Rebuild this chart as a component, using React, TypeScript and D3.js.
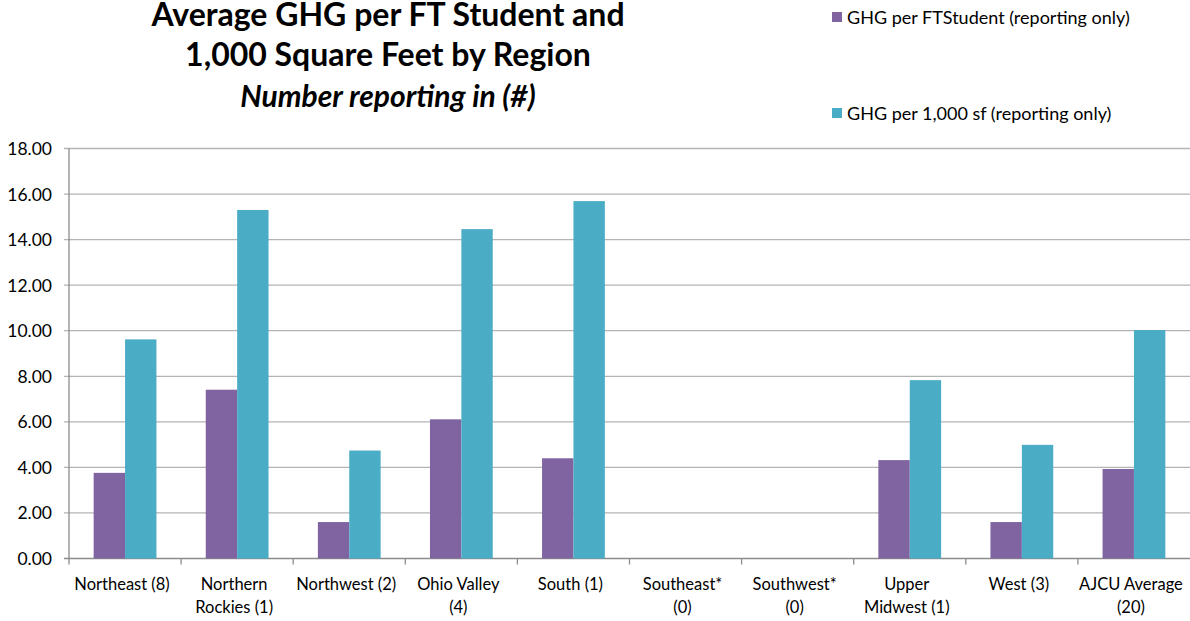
import React from "react";
import * as d3 from "d3";

const categories: string[][] = [
  ["Northeast (8)"],
  ["Northern", "Rockies (1)"],
  ["Northwest (2)"],
  ["Ohio Valley", "(4)"],
  ["South (1)"],
  ["Southeast*", "(0)"],
  ["Southwest*", "(0)"],
  ["Upper", "Midwest (1)"],
  ["West (3)"],
  ["AJCU Average", "(20)"],
];
const ghgPerStudent: (number | null)[] = [3.76, 7.41, 1.6, 6.11, 4.4, null, null, 4.32, 1.6, 3.93];
const ghgPer1000sf: (number | null)[] = [9.62, 15.3, 4.74, 14.46, 15.69, null, null, 7.83, 4.99, 10.03];
const seriesNames = ["GHG per FTStudent (reporting only)", "GHG per 1,000 sf (reporting only)"];
const seriesColors = ["#8064A2", "#4BACC6"];
const yTicks = [0, 2, 4, 6, 8, 10, 12, 14, 16, 18];
const titleLines = ["Average GHG per FT Student and", "1,000 Square Feet by Region"];
const subtitle = "Number reporting in (#)";

const W = 1190;
const H = 621;
const left = 69;
const right = 1190;
const top = 148.5;
const bottom = 558.5;
const FONT = "Lato, 'Open Sans', sans-serif";

export default function App() {
  const idx = categories.map((_, i) => i);
  const x = d3.scaleBand<number>().domain(idx).range([left, right]).paddingInner(0).paddingOuter(0);
  const bw = x.bandwidth();
  const inner = d3.scaleBand<number>().domain([0, 1]).range([bw * 0.22, bw * 0.78]);
  const y = d3.scaleLinear().domain([0, 18]).range([bottom, top]);
  const series = [ghgPerStudent, ghgPer1000sf];

  return (
    <svg width={W} height={H} style={{ position: "absolute", left: 0, top: 0, background: "#fff" }}>
      {/* title */}
      <g fontFamily={FONT} fill="#000" textAnchor="middle">
        <text x={388} y={26} fontSize={32} fontWeight="bold">{titleLines[0]}</text>
        <text x={388} y={66} fontSize={32} fontWeight="bold">{titleLines[1]}</text>
        <text x={388} y={107} fontSize={30} fontWeight="bold" fontStyle="italic">{subtitle}</text>
      </g>
      {/* legend */}
      <g fontFamily={FONT} fontSize={18} fill="#000">
        {seriesNames.map((n, i) => (
          <g key={n} transform={`translate(832, ${i === 0 ? 12 : 108})`}>
            <rect x={0} y={0} width={10} height={10} fill={seriesColors[i]} />
            <text x={15} y={5} dominantBaseline="central">{n}</text>
          </g>
        ))}
      </g>
      {/* grid */}
      <g>
        {yTicks.map((t) => (
          <line key={t} x1={left - 5} x2={right} y1={y(t)} y2={y(t)} stroke={t === 0 ? "#8c8c8c" : "#b4b4b4"} strokeWidth={1.3} />
        ))}
        <line x1={left} x2={left} y1={top} y2={bottom} stroke="#8c8c8c" strokeWidth={1.3} />
        {idx.map((i) => (
          <line key={i} x1={x(i)!} x2={x(i)!} y1={bottom} y2={bottom + 6} stroke="#8c8c8c" strokeWidth={1.3} />
        ))}
      </g>
      {/* y labels */}
      <g fontFamily={FONT} fontSize={17.5} fill="#000" textAnchor="end">
        {yTicks.map((t) => (
          <text key={t} x={52} y={y(t)} dominantBaseline="central">{t.toFixed(2)}</text>
        ))}
      </g>
      {/* bars */}
      <g>
        {series.map((s, si) =>
          s.map((v, i) =>
            v == null ? null : (
              <rect
                key={`${si}-${i}`}
                x={x(i)! + inner(si)!}
                y={y(v)}
                width={inner.bandwidth()}
                height={y(0) - y(v)}
                fill={seriesColors[si]}
              />
            )
          )
        )}
      </g>
      {/* x labels */}
      <g fontFamily={FONT} fontSize={16.5} fill="#000" textAnchor="middle">
        {categories.map((lines, i) => (
          <text key={i} x={x(i)! + bw / 2 - 3} y={584} dominantBaseline="central">
            {lines.map((l, li) => (
              <tspan key={li} x={x(i)! + bw / 2 - 3} dy={li === 0 ? 0 : 23}>{l}</tspan>
            ))}
          </text>
        ))}
      </g>
    </svg>
  );
}
